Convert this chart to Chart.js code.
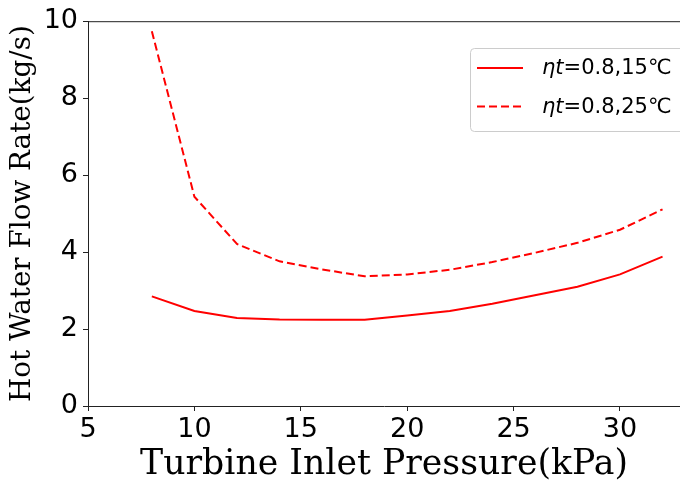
<!DOCTYPE html>
<html>
<head>
<meta charset="utf-8">
<script src="https://cdn.jsdelivr.net/npm/chart.js@4"></script>
<style>
  html, body { margin: 0; padding: 0; background: #fff; }
  #wrap { width: 680px; height: 482px; }
</style>
</head>
<body>
<div id="wrap"><canvas id="myChart" width="680" height="482"></canvas></div>
<script>
// turbine inlet pressure (kPa)
const pressure = [8, 10, 12, 14, 16, 18, 20, 22, 24, 26, 28, 30, 32];
// hot water flow rate (kg/s)
const flow15 = [2.85, 2.47, 2.29, 2.25, 2.24, 2.24, 2.35, 2.47, 2.66, 2.88, 3.10, 3.42, 3.88];
const flow25 = [9.74, 5.44, 4.21, 3.76, 3.55, 3.37, 3.42, 3.54, 3.74, 3.98, 4.24, 4.58, 5.11];
const seriesLabels = ['ηt=0.8,15℃', 'ηt=0.8,25℃'];
const xTicks = [5, 10, 15, 20, 25, 30];
const yTicks = [0, 2, 4, 6, 8, 10];

function toPoints(xs, ys) {
  return xs.map((x, i) => ({ x: x, y: ys[i] }));
}

// top spine only (no right one, the figure is cut there)
const topSpine = {
  id: 'topSpine',
  afterDraw(chart) {
    const { ctx, chartArea } = chart;
    ctx.save();
    ctx.strokeStyle = '#222';
    ctx.lineWidth = 1;
    ctx.beginPath();
    ctx.moveTo(chartArea.left, chartArea.top + 0.5);
    ctx.lineTo(chartArea.right, chartArea.top + 0.5);
    ctx.stroke();
    ctx.restore();
  }
};

// legend box like matplotlib, label "ηt" in italic
const mplLegend = {
  id: 'mplLegend',
  afterDraw(chart) {
    const ctx = chart.ctx;
    ctx.save();
    ctx.beginPath();
    ctx.roundRect(470.5, 48.5, 230, 83, 4);
    ctx.fillStyle = 'rgba(255,255,255,0.8)';
    ctx.fill();
    ctx.strokeStyle = '#cccccc';
    ctx.lineWidth = 1;
    ctx.stroke();

    chart.data.datasets.forEach((ds, i) => {
      const y = 68 + i * 38.5;
      ctx.strokeStyle = ds.borderColor;
      ctx.lineWidth = ds.borderWidth;
      ctx.setLineDash(ds.borderDash || []);
      ctx.beginPath();
      ctx.moveTo(477, y);
      ctx.lineTo(523, y);
      ctx.stroke();
      ctx.setLineDash([]);

      const k = ds.label.indexOf('=');
      const head = ds.label.slice(0, k);
      const rest = ds.label.slice(k);
      ctx.fillStyle = '#000';
      ctx.textBaseline = 'middle';
      ctx.textAlign = 'left';
      ctx.font = 'italic 21px "DejaVu Sans"';
      ctx.fillText(head, 542, y + 1);
      const w = ctx.measureText(head).width;
      ctx.font = '21px "DejaVu Sans"';
      ctx.fillText(rest, 542 + w, y + 1);
    });
    ctx.restore();
  }
};

const ctx = document.getElementById('myChart');
new Chart(ctx, {
  type: 'line',
  data: {
    datasets: [
      {
        label: seriesLabels[0],
        data: toPoints(pressure, flow15),
        borderColor: '#ff0000',
        borderWidth: 2,
        pointRadius: 0,
        tension: 0
      },
      {
        label: seriesLabels[1],
        data: toPoints(pressure, flow25),
        borderColor: '#ff0000',
        borderWidth: 2,
        borderDash: [8, 4],
        pointRadius: 0,
        tension: 0
      }
    ]
  },
  options: {
    responsive: false,
    animation: false,
    layout: { padding: { top: 21, right: 0, left: 0, bottom: 0 } },
    plugins: {
      legend: { display: false },
      tooltip: { enabled: false }
    },
    scales: {
      x: {
        type: 'linear',
        min: 5,
        max: 32.82,
        afterFit(scale) { scale.height = 76; },
        afterBuildTicks(scale) { scale.ticks = xTicks.map(v => ({ value: v })); },
        ticks: {
          color: '#000',
          padding: 3,
          maxRotation: 0,
          autoSkip: false,
          font: { family: 'DejaVu Sans', size: 27 }
        },
        grid: { display: true, drawOnChartArea: false, drawTicks: true, tickLength: 5, color: '#222' },
        border: { display: true, color: '#222', width: 1 },
        title: {
          display: true,
          text: 'Turbine Inlet Pressure(kPa)',
          color: '#000',
          padding: { top: 0, bottom: 0 },
          font: { family: 'DejaVu Serif', size: 34.7, lineHeight: 1.0 }
        }
      },
      y: {
        type: 'linear',
        min: 0,
        max: 10,
        afterFit(scale) { scale.width = 88; },
        afterBuildTicks(scale) { scale.ticks = yTicks.map(v => ({ value: v })); },
        ticks: {
          color: '#000',
          padding: 5,
          autoSkip: false,
          font: { family: 'DejaVu Sans', size: 27 }
        },
        grid: { display: true, drawOnChartArea: false, drawTicks: true, tickLength: 5, color: '#222' },
        border: { display: true, color: '#222', width: 1 },
        title: {
          display: true,
          text: 'Hot Water Flow Rate(kg/s)',
          color: '#000',
          padding: { top: 6, bottom: 0 },
          font: { family: 'DejaVu Serif', size: 27.8 }
        }
      }
    }
  },
  plugins: [topSpine, mplLegend]
});
</script>
</body>
</html>
